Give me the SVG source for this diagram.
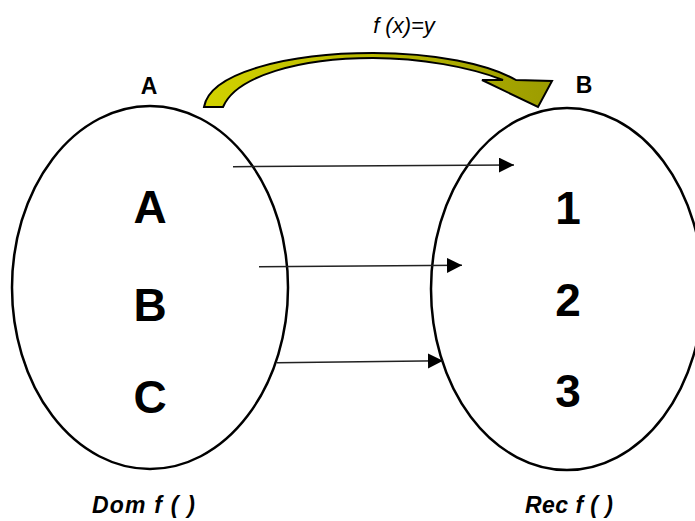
<svg xmlns="http://www.w3.org/2000/svg" width="695" height="521" viewBox="0 0 695 521">
<style>
.set{fill:none;stroke:#000;stroke-width:2.5}
.big{font-family:"Liberation Sans",Arial,sans-serif;font-weight:bold;font-size:46px;text-anchor:middle;fill:#000}
.lbl{font-family:"Liberation Sans",Arial,sans-serif;font-weight:bold;font-size:23px;text-anchor:middle;fill:#000}
.cap{font-family:"Liberation Sans",Arial,sans-serif;font-weight:bold;font-style:italic;font-size:23px;fill:#000}
.fx{font-family:"Liberation Sans",Arial,sans-serif;font-style:italic;font-size:22px;text-anchor:middle;fill:#000}
.conn{stroke:#222;stroke-width:1.5;fill:none;marker-end:url(#ah)}
</style>
<defs>
<marker id="ah" markerUnits="userSpaceOnUse" markerWidth="16" markerHeight="16" refX="15" refY="7.5" orient="auto">
<path d="M0,0 L15,7.5 L0,15 Z" fill="#000"/>
</marker>
<linearGradient id="olive" x1="0" y1="0" x2="1" y2="0">
<stop offset="0" stop-color="#d2d200"/>
<stop offset="1" stop-color="#9c9c00"/>
</linearGradient>
</defs>
<rect width="695" height="521" fill="#fff"/>
<text class="fx" x="404" y="33">f (x)=y</text>
<g id="mapping">
<path d="M204,107 C210,72 290,53 373,53 C435,53 488,64 516,80 L552,81 L538,107 L482,80 L503,80 C470,67 420,58 373,58 C300,58 236,76 223,107 Z" fill="url(#olive)" stroke="#000" stroke-width="2" stroke-linejoin="miter"/>
</g>
<g id="domain">
<ellipse class="set" cx="150" cy="287.5" rx="138" ry="181.5"/>
<text class="lbl" x="149" y="94">A</text>
<text class="big" x="150" y="223">A</text>
<text class="big" x="150" y="321">B</text>
<text class="big" x="150" y="413">C</text>
<text class="cap" x="92" y="513" textLength="103" lengthAdjust="spacing">Dom f ( )</text>
</g>
<g id="codomain">
<ellipse class="set" cx="567" cy="289" rx="136" ry="181"/>
<text class="lbl" x="584" y="93">B</text>
<text class="big" x="568" y="224">1</text>
<text class="big" x="568" y="316">2</text>
<text class="big" x="568" y="407">3</text>
<text class="cap" x="525" y="513" textLength="88" lengthAdjust="spacing">Rec f ( )</text>
</g>
<g id="connectors">
<line class="conn" x1="233" y1="166.7" x2="514" y2="165"/>
<line class="conn" x1="259" y1="266.7" x2="462" y2="265.3"/>
<line class="conn" x1="277" y1="362.7" x2="443" y2="360.7"/>
</g>
</svg>
